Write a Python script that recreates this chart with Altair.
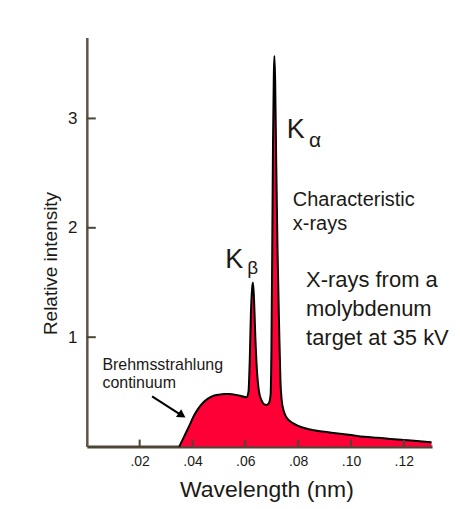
import altair as alt
import pandas as pd

# Spectrum (wavelength nm, relative intensity)
wavelength = [0.0350, 0.0370, 0.0390, 0.0405, 0.0420, 0.0440, 0.0460, 0.0480, 0.0500,
              0.0520, 0.0540, 0.0560, 0.0580, 0.0595, 0.0605, 0.0612, 0.0617, 0.0621,
              0.0626, 0.0629, 0.0633, 0.0638, 0.0644, 0.0652, 0.0662, 0.0672, 0.0681,
              0.0690, 0.0696, 0.0699, 0.0702, 0.0705, 0.0708, 0.0710, 0.0713, 0.0717,
              0.0722, 0.0728, 0.0733, 0.0738, 0.0745, 0.0755, 0.0765, 0.0780, 0.0800,
              0.0830, 0.0860, 0.0900, 0.0950, 0.1000, 0.1050, 0.1100, 0.1150, 0.1200,
              0.1250, 0.1305]
intensity = [0.00, 0.10, 0.20, 0.28, 0.34, 0.40, 0.44, 0.465, 0.475,
             0.48, 0.48, 0.475, 0.465, 0.455, 0.45, 0.50, 0.80, 1.20,
             1.45, 1.50, 1.35, 1.00, 0.70, 0.50, 0.42, 0.385, 0.38,
             0.40, 0.48, 0.90, 1.80, 2.80, 3.40, 3.57, 3.35, 2.60,
             1.80, 1.10, 0.60, 0.42, 0.33, 0.27, 0.24, 0.215, 0.19,
             0.165, 0.15, 0.135, 0.12, 0.105, 0.09, 0.08, 0.07, 0.06,
             0.05, 0.04]

x_ticks = [0.02, 0.04, 0.06, 0.08, 0.10, 0.12]
y_ticks = [1, 2, 3]

FONT = "Liberation Sans"
RED = "#ff0036"
INK = "#1c1a16"
AXIS = "#4d4536"

spec = pd.DataFrame({"x": wavelength, "y": intensity})

xscale = alt.Scale(domain=[0, 0.1307], nice=False, zero=True)
yscale = alt.Scale(domain=[0, 3.74], nice=False)

xenc = alt.X("x:Q", scale=xscale,
             axis=alt.Axis(values=x_ticks, labelExpr="substring(format(datum.value, '.2f'), 1)",
                           ticks=False, grid=False, domainColor=AXIS, domainWidth=3,
                           labelFont=FONT, labelFontSize=14, labelColor=INK, labelPadding=8,
                           title="Wavelength (nm)", titleFont=FONT, titleFontSize=23,
                           titleFontWeight="normal", titleColor=INK,
                           titleX=180, titleY=50, titleAlign="center", titleBaseline="alphabetic"))
yenc = alt.Y("y:Q", scale=yscale,
             axis=alt.Axis(values=y_ticks, format="d", ticks=False, grid=False,
                           domainColor="#5e5444", domainWidth=2.5,
                           labelFont=FONT, labelFontSize=17, labelColor=INK, labelPadding=10,
                           title="Relative intensity", titleFont=FONT, titleFontSize=19,
                           titleFontWeight="normal", titleColor=INK, titleAngle=270,
                           titleX=-30, titleY=226, titleAlign="center", titleBaseline="alphabetic"))

area = alt.Chart(spec).mark_area(color=RED, interpolate="monotone").encode(x=xenc, y=yenc)
outline = alt.Chart(spec).mark_line(color="#000000", strokeWidth=2, interpolate="monotone").encode(
    x=alt.X("x:Q", scale=xscale), y=alt.Y("y:Q", scale=yscale))

# inward ticks
yt = alt.Chart(pd.DataFrame({"y": y_ticks})).mark_rule(color=AXIS, strokeWidth=2).encode(
    y=alt.Y("y:Q", scale=yscale), x=alt.value(0), x2=alt.value(9))
xt = alt.Chart(pd.DataFrame({"x": x_ticks})).mark_rule(color=AXIS, strokeWidth=2).encode(
    x=alt.X("x:Q", scale=xscale), y=alt.value(410), y2=alt.value(403))

# annotations (data coordinates)
notes = [
    ("K", 0.0757, 2.82, 27),
    ("\u03b1", 0.0841, 2.737, 21),
    ("K", 0.0524, 1.633, 27),
    ("\u03b2", 0.0607, 1.58, 19),
    ("Characteristic", 0.0780, 2.199, 20),
    ("x-rays", 0.0780, 1.98, 20),
    ("X-rays from a", 0.0830, 1.460, 22),
    ("molybdenum", 0.0830, 1.195, 22),
    ("target at 35 kV", 0.0830, 0.931, 22),
    ("Brehmsstrahlung", 0.0059, 0.703, 16),
    ("continuum", 0.0059, 0.538, 16),
]
texts = []
for t, nx, ny, fs in notes:
    texts.append(alt.Chart(pd.DataFrame({"x": [nx], "y": [ny], "t": [t]})).mark_text(
        align="left", baseline="alphabetic", font=FONT, fontSize=fs, color=INK).encode(
        x=alt.X("x:Q", scale=xscale), y=alt.Y("y:Q", scale=yscale), text="t:N"))

arrow_x = [0.0247, 0.0362]
arrow_y = [0.459, 0.281]
arrow = alt.Chart(pd.DataFrame({"x": arrow_x, "y": arrow_y})).mark_line(
    color="#000000", strokeWidth=2).encode(x=alt.X("x:Q", scale=xscale), y=alt.Y("y:Q", scale=yscale))
head = alt.Chart(pd.DataFrame({"x": [0.0356], "y": [0.292]})).mark_point(
    shape="triangle", filled=True, color="#000000", size=90, angle=123, opacity=1).encode(
    x=alt.X("x:Q", scale=xscale), y=alt.Y("y:Q", scale=yscale))

chart = alt.layer(area, outline, yt, xt, arrow, head, *texts).properties(
    width=346, height=410,
    autosize=alt.AutoSizeParams(type="none"),
    padding={"left": 79, "top": 29, "right": 20, "bottom": 55},
).configure_view(stroke=None)

chart.save("out.html", embed_options={"renderer": "svg", "actions": False})
